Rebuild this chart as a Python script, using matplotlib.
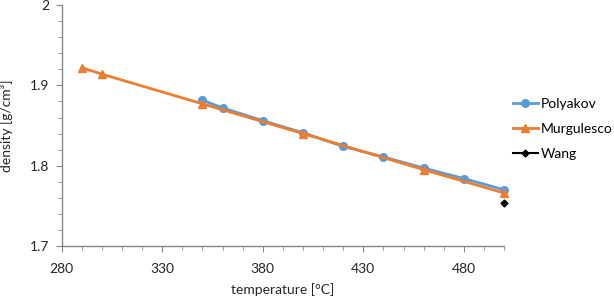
import matplotlib
matplotlib.use("Agg")
import matplotlib.pyplot as plt
from matplotlib.ticker import MultipleLocator, FuncFormatter

plt.rcParams['font.family'] = ['Lato', 'DejaVu Sans']

poly_t = [350, 360, 380, 400, 420, 440, 460, 480, 500]
poly_d = [1.8815, 1.872, 1.856, 1.841, 1.824, 1.811, 1.797, 1.784, 1.770]
murg_t = [290, 300, 350, 400, 460, 500]
murg_d = [1.922, 1.914, 1.877, 1.840, 1.795, 1.766]
wang_t = [500]
wang_d = [1.753]

fig = plt.figure(figsize=(6.14, 2.98), dpi=100)
ax = fig.add_axes([0.1005, 0.1745, 0.7205, 0.8085])

ax.plot(poly_t, poly_d, color='#5B9BD5', marker='o', markersize=5.5, lw=2, label='Polyakov', clip_on=False)
ax.plot(murg_t, murg_d, color='#ED7D31', marker='^', markersize=6, lw=2, label='Murgulesco', clip_on=False)
ax.plot(wang_t, wang_d, color='black', marker='D', markersize=3.5, lw=1.5, label='Wang', clip_on=False)

ax.set_xlim(280, 500)
ax.set_ylim(1.7, 2.0)
ax.xaxis.set_major_locator(MultipleLocator(50))
ax.xaxis.set_minor_locator(MultipleLocator(10))
ax.yaxis.set_major_locator(MultipleLocator(0.1))
ax.yaxis.set_minor_locator(MultipleLocator(0.02))
ax.yaxis.set_major_formatter(FuncFormatter(lambda v, p: ('%.1f' % v).rstrip('0').rstrip('.')))
ax.set_xticks([280, 330, 380, 430, 480])

for s in ['top', 'right']:
    ax.spines[s].set_visible(False)
for s in ['left', 'bottom']:
    ax.spines[s].set_color('#868686')
    ax.spines[s].set_linewidth(1)
ax.tick_params(which='both', direction='out', color='#868686', labelsize=10, labelcolor='#262626')
ax.tick_params(which='major', length=4)
ax.tick_params(which='minor', length=3)
ax.tick_params(axis='x', pad=8)
ax.tick_params(axis='y', pad=5)

ax.set_xlabel('temperature [°C]', fontsize=10, color='#262626', labelpad=6)
ax.set_ylabel('density [g/cm³]', fontsize=10, color='#262626', labelpad=12)

ax.legend(loc='upper left', bbox_to_anchor=(1.02, 0.615), frameon=False, fontsize=10,
          handlelength=1.8, handletextpad=0.2, labelspacing=0.95, borderaxespad=0,
          borderpad=0)

fig.savefig('out.png', dpi=100)
